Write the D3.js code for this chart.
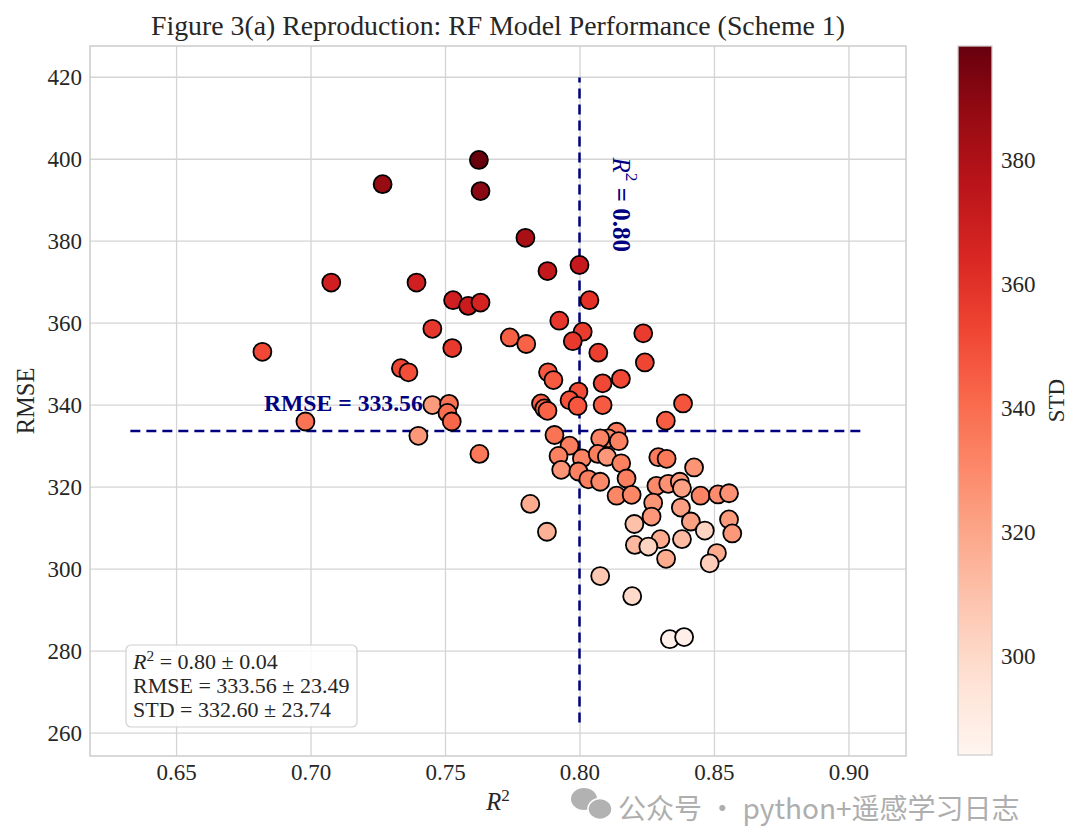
<!DOCTYPE html>
<html>
<head>
<meta charset="utf-8">
<script src="https://cdn.jsdelivr.net/npm/d3@7"></script>
<style>
  body { margin: 0; background: #fff; }
  svg text { font-family: "Liberation Serif", "Times New Roman", serif; }
  svg text.wm { font-family: "Noto Sans CJK SC", "Noto Sans", sans-serif; }
</style>
</head>
<body>
<svg id="chart" width="1080" height="833"></svg>
<script>
// values
var r2Values = [0.7626, 0.7632, 0.7268, 0.7799, 0.8000, 0.7881, 0.7077, 0.7394, 0.7530, 0.7586,
  0.7632, 0.8037, 0.7925, 0.7453, 0.8012, 0.8237, 0.7741, 0.7975, 0.7802, 0.7527,
  0.6821, 0.8070, 0.8243, 0.7336, 0.7364, 0.7883, 0.8154, 0.7903, 0.8086, 0.7996,
  0.7963, 0.7993, 0.8086, 0.7857, 0.7869, 0.7881, 0.8385, 0.7453, 0.7515, 0.7509,
  0.7525, 0.6981, 0.8321, 0.7401, 0.7907, 0.8138, 0.8107, 0.8077, 0.8146, 0.7963,
  0.7628, 0.7922, 0.8009, 0.8068, 0.8102, 0.8293, 0.8324, 0.8155, 0.8426, 0.7932,
  0.7996, 0.8175, 0.8033, 0.8077, 0.8286, 0.8330, 0.8373, 0.8381, 0.8138, 0.8194,
  0.8450, 0.8515, 0.8556, 0.8274, 0.7817, 0.8377, 0.8268, 0.8556, 0.8414, 0.8204,
  0.8466, 0.8568, 0.7879, 0.8301, 0.8381, 0.8206, 0.8256, 0.8511, 0.8322, 0.8484,
  0.8077, 0.8196, 0.8336, 0.8389];
var rmseValues = [399.7, 392.1, 393.8, 380.7, 374.1, 372.6, 369.8, 369.8, 365.5, 364.1,
  364.9, 365.5, 360.5, 358.5, 357.8, 357.4, 356.4, 355.5, 354.8, 353.8,
  352.9, 352.7, 350.3, 348.9, 347.9, 347.9, 346.3, 346.0, 345.2, 343.2,
  341.1, 339.7, 339.9, 340.3, 339.1, 338.5, 340.3, 339.9, 340.2, 338.0,
  335.9, 335.9, 336.1, 332.4, 332.6, 333.4, 331.8, 331.8, 331.1, 330.0,
  328.0, 327.5, 326.9, 328.0, 327.3, 327.2, 326.8, 325.7, 324.7, 324.1,
  323.7, 322.0, 321.8, 321.2, 320.2, 320.7, 321.2, 319.6, 317.8, 318.0,
  317.8, 318.1, 318.4, 316.1, 315.8, 314.9, 312.7, 312.0, 311.5, 310.9,
  309.3, 308.6, 309.0, 307.2, 307.2, 305.8, 305.4, 303.8, 302.4, 301.3,
  298.2, 293.3, 282.8, 283.3];
var stdValues = [398, 390, 387, 382, 372, 373, 368, 368, 368, 370,
  366, 360, 358, 358, 356, 356, 344, 357, 343, 357,
  352, 355, 353, 353, 350, 347, 352, 346, 352, 351,
  349, 347, 346, 345, 344, 343, 348, 324, 338, 340,
  342, 338, 345, 325, 338, 335, 330, 332, 333, 334,
  336, 333, 332, 334, 325, 335, 336, 333, 326, 326,
  333, 334, 334, 330, 330, 327, 325, 322, 331, 331,
  332, 329, 327, 326, 318, 322, 325, 324, 322, 310,
  303, 325, 316, 318, 312, 313, 303, 318, 318, 305,
  308, 300, 287, 288];

var xTicks = [0.65, 0.70, 0.75, 0.80, 0.85, 0.90];
var yTicks = [260, 280, 300, 320, 340, 360, 380, 400, 420];
var stdTicks = [300, 320, 340, 360, 380];

var meanR2 = 0.80, meanRmse = 333.56;
var hLineSpan = [0.633, 0.906];
var vLineSpan = [262.5, 419.8];
var summaryLines = [
  {label: "R", sup: "2", text: " = 0.80 \u00b1 0.04"},
  {label: "RMSE", sup: "", text: " = 333.56 \u00b1 23.49"},
  {label: "STD", sup: "", text: " = 332.60 \u00b1 23.74"}
];

var svg = d3.select("#chart");

var plot = {left: 90, right: 906, top: 46, bottom: 756};

var x = d3.scaleLinear().domain([0.618, 0.9214]).range([plot.left, plot.right]);
var y = d3.scaleLinear().domain([254.3, 427.5]).range([plot.bottom, plot.top]);
var color = d3.scaleSequential(d3.interpolateReds).domain([284, 398.5]);

function styleGrid(g) {
  g.select(".domain").remove();
  g.selectAll("line").attr("stroke", "#d4d4d4").attr("stroke-width", 1.3);
  g.selectAll("text").attr("fill", "#262626").attr("font-size", 23);
}

// grid
svg.append("g")
  .attr("transform", "translate(0," + plot.bottom + ")")
  .call(d3.axisBottom(x).tickValues(xTicks).tickSize(-(plot.bottom - plot.top)).tickFormat(d3.format(".2f")).tickPadding(8))
  .call(styleGrid);

svg.append("g")
  .attr("transform", "translate(" + plot.left + ",0)")
  .call(d3.axisLeft(y).tickValues(yTicks).tickSize(-(plot.right - plot.left)).tickPadding(8))
  .call(styleGrid);

// frame
svg.append("rect")
  .attr("x", plot.left).attr("y", plot.top)
  .attr("width", plot.right - plot.left).attr("height", plot.bottom - plot.top)
  .attr("fill", "none").attr("stroke", "#cccccc").attr("stroke-width", 1.5);

// mean lines
svg.append("line")
  .attr("x1", x(hLineSpan[0])).attr("x2", x(hLineSpan[1]))
  .attr("y1", y(meanRmse)).attr("y2", y(meanRmse))
  .attr("stroke", "#000080").attr("stroke-width", 2.5).attr("stroke-dasharray", "10,6");
svg.append("line")
  .attr("x1", x(meanR2)).attr("x2", x(meanR2))
  .attr("y1", y(vLineSpan[0])).attr("y2", y(vLineSpan[1]))
  .attr("stroke", "#000080").attr("stroke-width", 2.5).attr("stroke-dasharray", "10,6");

// points
var points = r2Values.map(function(v, i) {
  return {r2: v, rmse: rmseValues[i], std: stdValues[i]};
});

svg.append("g").selectAll("circle")
  .data(points)
  .join("circle")
  .attr("cx", function(d) { return x(d.r2); })
  .attr("cy", function(d) { return y(d.rmse); })
  .attr("r", 9)
  .attr("fill", function(d) { return color(d.std); })
  .attr("stroke", "#000")
  .attr("stroke-width", 1.8);

// annotations
svg.append("text")
  .attr("x", x(0.7122)).attr("y", y(338.4))
  .attr("text-anchor", "middle")
  .attr("font-size", 23.7).attr("font-weight", "bold").attr("fill", "#000080")
  .text("RMSE = " + meanRmse.toFixed(2));

var vLabel = svg.append("text")
  .attr("transform", "translate(" + (x(meanR2) + 43) + "," + y(388.8) + ") rotate(90)")
  .attr("text-anchor", "middle").attr("dominant-baseline", "central")
  .attr("font-size", 25).attr("fill", "#000080");
vLabel.append("tspan").attr("font-style", "italic").text("R");
vLabel.append("tspan").attr("baseline-shift", "super").attr("font-size", "70%").text("2");
vLabel.append("tspan").attr("font-weight", "bold").text(" = " + meanR2.toFixed(2));

// summary box
svg.append("rect")
  .attr("x", 126).attr("y", 645).attr("width", 231).attr("height", 82).attr("rx", 5)
  .attr("fill", "#fff").attr("fill-opacity", 0.85)
  .attr("stroke", "#d0d0d0").attr("stroke-width", 1.2);

summaryLines.forEach(function(line, i) {
  var t = svg.append("text")
    .attr("x", 133).attr("y", 669 + i * 24)
    .attr("font-size", 22).attr("fill", "#262626");
  if (line.sup) {
    t.append("tspan").attr("font-style", "italic").text(line.label);
    t.append("tspan").attr("baseline-shift", "super").attr("font-size", "70%").text(line.sup);
  } else {
    t.append("tspan").text(line.label);
  }
  t.append("tspan").text(line.text);
});

// titles
svg.append("text")
  .attr("x", (plot.left + plot.right) / 2).attr("y", 35)
  .attr("text-anchor", "middle").attr("font-size", 27.8).attr("fill", "#262626")
  .text("Figure 3(a) Reproduction: RF Model Performance (Scheme 1)");

svg.append("text")
  .attr("transform", "translate(34," + ((plot.top + plot.bottom) / 2) + ") rotate(-90)")
  .attr("text-anchor", "middle").attr("font-size", 24.5).attr("fill", "#262626")
  .text("RMSE");

var xLabel = svg.append("text")
  .attr("x", (plot.left + plot.right) / 2).attr("y", 810)
  .attr("text-anchor", "middle").attr("font-size", 24.5).attr("fill", "#262626");
xLabel.append("tspan").attr("font-style", "italic").text("R");
xLabel.append("tspan").attr("baseline-shift", "super").attr("font-size", "70%").text("2");

// colorbar
var cb = {left: 958, width: 34, top: 46, bottom: 755};
var cScale = d3.scaleLinear().domain(color.domain()).range([cb.bottom, cb.top]);

var grad = svg.append("defs").append("linearGradient")
  .attr("id", "stdGrad").attr("x1", 0).attr("y1", 1).attr("x2", 0).attr("y2", 0);
d3.range(0, 1.0001, 0.1).forEach(function(s) {
  grad.append("stop").attr("offset", s).attr("stop-color", d3.interpolateReds(s));
});

svg.append("rect")
  .attr("x", cb.left).attr("y", cb.top).attr("width", cb.width).attr("height", cb.bottom - cb.top)
  .attr("fill", "url(#stdGrad)").attr("stroke", "#d0d0d0").attr("stroke-width", 1.3);

svg.append("g")
  .attr("transform", "translate(" + (cb.left + cb.width) + ",0)")
  .call(d3.axisRight(cScale).tickValues(stdTicks).tickSize(0).tickPadding(9))
  .call(function(g) {
    g.select(".domain").remove();
    g.selectAll("text").attr("fill", "#262626").attr("font-size", 23);
  });

svg.append("text")
  .attr("transform", "translate(1056," + ((cb.top + cb.bottom) / 2) + ") rotate(-90)")
  .attr("text-anchor", "middle").attr("dominant-baseline", "central")
  .attr("font-size", 23).attr("fill", "#262626")
  .text("STD");

// watermark (sits just under the tick labels)
var wm = svg.append("g").attr("opacity", 0.8);
wm.append("ellipse").attr("cx", 584).attr("cy", 799).attr("rx", 13).attr("ry", 11).attr("fill", "#a0a0a0");
wm.append("ellipse").attr("cx", 600).attr("cy", 809).attr("rx", 12).attr("ry", 10.5)
  .attr("fill", "#a0a0a0").attr("stroke", "#fff").attr("stroke-width", 1.5);
wm.append("text")
  .attr("class", "wm")
  .attr("x", 618).attr("y", 807).attr("dominant-baseline", "central")
  .attr("font-size", 28).attr("fill", "#9a9a9a")
  .text("\u516c\u4f17\u53f7 \u00b7 python+\u9065\u611f\u5b66\u4e60\u65e5\u5fd7");
</script>
</body>
</html>
